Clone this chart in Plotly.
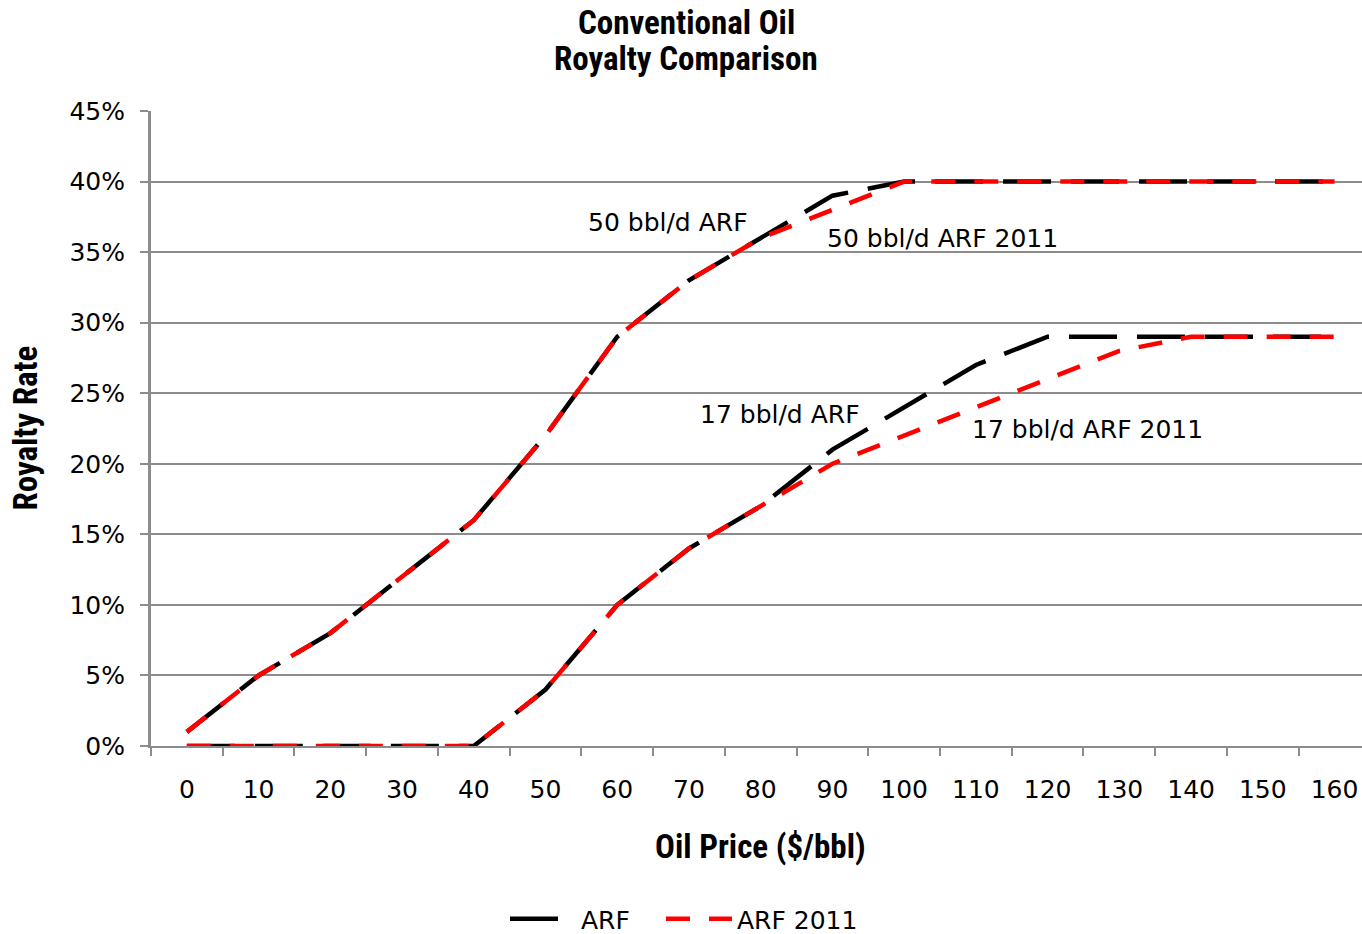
import plotly.graph_objects as go

prices = [str(v) for v in range(0, 170, 10)]
arf_50 = [1, 5, 8, 12, 16, 22, 29, 33, 36, 39, 40, 40, 40, 40, 40, 40, 40]
arf2011_50 = [1, 5, 8, 12, 16, 22, 29, 33, 36, 38, 40, 40, 40, 40, 40, 40, 40]
arf_17 = [0, 0, 0, 0, 0, 4, 10, 14, 17, 21, 24, 27, 29, 29, 29, 29, 29]
arf2011_17 = [0, 0, 0, 0, 0, 4, 10, 14, 17, 20, 22, 24, 26, 28, 29, 29, 29]

BODY = "DejaVu Sans"
NARROW = "Liberation Sans Narrow, Arial Narrow, Roboto Condensed, sans-serif"
GRID = "#8c8c8c"

fig = go.Figure()
black = dict(color="black", width=4.5, dash="48px,20px")
red = dict(color="#ff0000", width=4.5, dash="24px,19px")

fig.add_trace(go.Scatter(x=prices, y=[v / 100 for v in arf_50], mode="lines", line=black,
                         name="ARF", legendgroup="arf", showlegend=True, legend="legend"))
fig.add_trace(go.Scatter(x=prices, y=[v / 100 for v in arf_17], mode="lines", line=black,
                         name="ARF", legendgroup="arf", showlegend=False, legend="legend"))
fig.add_trace(go.Scatter(x=prices, y=[v / 100 for v in arf2011_50], mode="lines", line=red,
                         name="ARF 2011", legendgroup="arf2011", showlegend=True, legend="legend2"))
fig.add_trace(go.Scatter(x=prices, y=[v / 100 for v in arf2011_17], mode="lines", line=red,
                         name="ARF 2011", legendgroup="arf2011", showlegend=False, legend="legend2"))

labels = [
    ("50 bbl/d ARF", 6.71, 0.371),
    ("50 bbl/d ARF 2011", 10.54, 0.360),
    ("17 bbl/d ARF", 8.27, 0.235),
    ("17 bbl/d ARF 2011", 12.56, 0.224),
]
for text, xi, yv in labels:
    fig.add_annotation(x=xi, y=yv, xref="x", yref="y", text=text, showarrow=False,
                       font=dict(family=BODY, size=25, color="black"),
                       xanchor="center", yanchor="middle")

# title lines
for text, py in [("Conventional Oil", 23), ("Royalty Comparison", 58)]:
    fig.add_annotation(x=(686 - 151) / 1211, y=1 + (111 - py) / 635, xref="paper", yref="paper",
                       text=text, showarrow=False,
                       font=dict(family=NARROW, size=33, color="black", weight="bold"),
                       xanchor="center", yanchor="middle")

# axis titles
fig.add_annotation(x=(760 - 151) / 1211, y=-(846 - 746) / 635, xref="paper", yref="paper",
                   text="Oil Price ($/bbl)", showarrow=False,
                   font=dict(family=NARROW, size=33, color="black", weight="bold"),
                   xanchor="center", yanchor="middle")
fig.add_annotation(x=(25 - 151) / 1211, y=0.5, xref="paper", yref="paper",
                   text="Royalty Rate", showarrow=False, textangle=-90,
                   font=dict(family=NARROW, size=33, color="black", weight="bold"),
                   xanchor="center", yanchor="middle")

legend_common = dict(orientation="h", xanchor="left", y=-(919 - 746) / 635, yanchor="middle",
                     font=dict(family=BODY, size=25, color="black"), itemwidth=66,
                     bgcolor="rgba(0,0,0,0)")

fig.update_layout(
    width=1362, height=934,
    margin=dict(l=151, r=0, t=111, b=188, autoexpand=False),
    paper_bgcolor="white", plot_bgcolor="white",
    showlegend=True,
    legend=dict(x=(505 - 151) / 1211, **legend_common),
    legend2=dict(x=(661 - 151) / 1211, **legend_common),
    xaxis=dict(type="category", range=[-0.5, (1362 - 151) / 71.73 - 0.5],
               tickson="boundaries", ticks="outside", ticklen=8, tickwidth=2, tickcolor=GRID,
               showline=True, linecolor=GRID, linewidth=2, showgrid=False, zeroline=False,
               tickfont=dict(family=BODY, size=25, color="black"), ticklabelstandoff=20),
    yaxis=dict(range=[0, 0.45], dtick=0.05, tickformat=".0%", ticks="outside", ticklen=8,
               tickwidth=2, tickcolor=GRID, showline=True, linecolor=GRID, linewidth=3,
               showgrid=True, gridcolor=GRID, gridwidth=2, zeroline=False,
               tickfont=dict(family=BODY, size=25, color="black"), ticklabelstandoff=10),
)

fig.write_html("out.html")
